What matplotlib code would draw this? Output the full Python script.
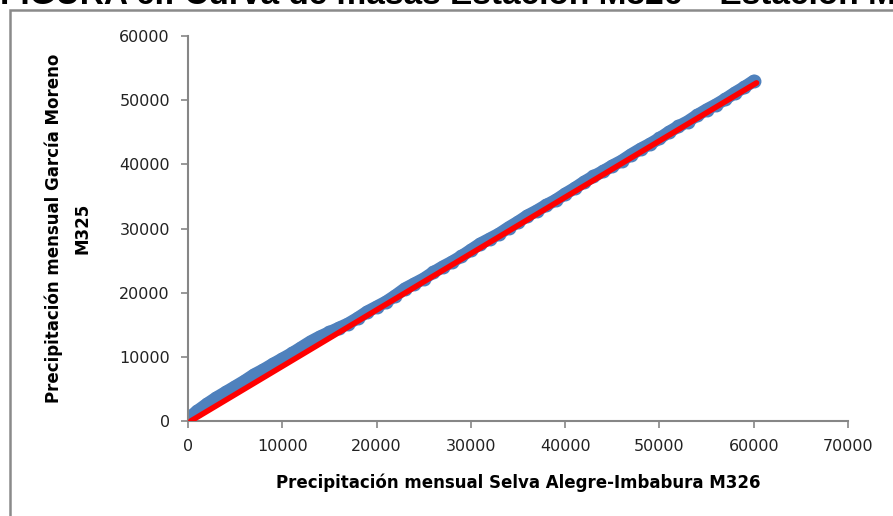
import matplotlib
matplotlib.use('Agg')
import matplotlib.pyplot as plt
from matplotlib.patches import Rectangle

# cumulative monthly precipitation (mass curve)
m326_acum = [0, 1000, 2000, 3000, 4000, 5000, 6000, 7000, 8000, 9000,
             10000, 11000, 12000, 13000, 14000, 15000, 16000, 17000, 18000, 19000,
             20000, 21000, 22000, 23000, 24000, 25000, 26000, 27000, 28000, 29000,
             30000, 31000, 32000, 33000, 34000, 35000, 36000, 37000, 38000, 39000,
             40000, 41000, 42000, 43000, 44000, 45000, 46000, 47000, 48000, 49000,
             50000, 51000, 52000, 53000, 54000, 55000, 56000, 57000, 58000, 59000,
             60000]
m325_acum = [400, 1575, 2650, 3625, 4500, 5375, 6250, 7225, 8000, 8875,
             9700, 10525, 11450, 12375, 13150, 13825, 14500, 15175, 16050, 17025,
             17800, 18575, 19550, 20625, 21400, 22175, 23150, 24025, 24800, 25675,
             26650, 27625, 28400, 29175, 30150, 31025, 32000, 32775, 33650, 34425,
             35400, 36275, 37250, 38125, 38900, 39775, 40550, 41525, 42400, 43175,
             44050, 45025, 45900, 46675, 47650, 48525, 49300, 50175, 51150, 52025,
             53000]

# trend line end points
trend_x = [300, 60300]
trend_y = [0, 52700]

xticks = [0, 10000, 20000, 30000, 40000, 50000, 60000, 70000]
yticks = [0, 10000, 20000, 30000, 40000, 50000, 60000]

fig = plt.figure(figsize=(8.93, 5.16), dpi=100)
ax = fig.add_axes([0.2105, 0.1841, 0.7391, 0.7461])

ax.plot(m326_acum, m325_acum, color='#4F81BD', lw=9, marker='o', ms=9,
        solid_capstyle='round', zorder=2)
ax.plot(trend_x, trend_y, color='#FF0000', lw=4, solid_capstyle='round', zorder=3)

ax.set_xlim(0, 70000)
ax.set_ylim(0, 60000)
ax.set_xticks(xticks)
ax.set_yticks(yticks)
ax.set_xticklabels([str(v) for v in xticks])
ax.set_yticklabels([str(v) for v in yticks])
ax.tick_params(labelsize=11.5, colors='#868686', labelcolor='#222222', length=5, width=1.2, pad=8)

for s in ['top', 'right']:
    ax.spines[s].set_visible(False)
for s in ['left', 'bottom']:
    ax.spines[s].set_color('#868686')
    ax.spines[s].set_linewidth(1.5)

ax.set_xlabel('Precipitación mensual Selva Alegre-Imbabura M326', fontsize=12,
              fontweight='bold', family='DejaVu Sans', labelpad=14)
ax.set_ylabel('Precipitación mensual García Moreno\nM325', fontsize=12,
              fontweight='bold', family='DejaVu Sans', labelpad=20, linespacing=1.75)

# outer frame and clipped title at the top
fig.patches.append(Rectangle((10 / 893, -0.1), 1.2, 1 - 10 / 516 + 0.1,
                             transform=fig.transFigure, fill=False,
                             edgecolor='#8a8a8a', lw=1.8))
fig.text(0.0, 1 - 4 / 516, 'FIGURA 6.: Curva de masas Estación M326 – Estación M325',
         fontsize=24, fontweight='bold', family='Liberation Sans', va='baseline')

fig.savefig('out.png', dpi=100)
